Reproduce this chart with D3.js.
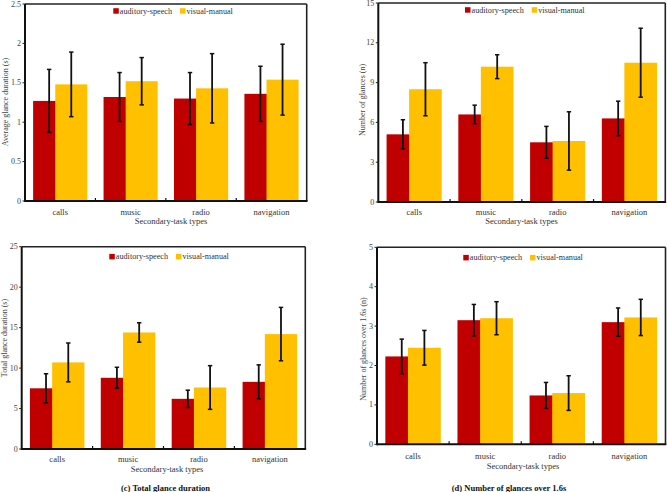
<!DOCTYPE html>
<html><head><meta charset="utf-8">
<script src="https://cdn.jsdelivr.net/npm/d3@7"></script>
<style>body{margin:0;background:#fff}svg{display:block}text{font-family:"Liberation Serif","Times New Roman",serif}</style>
</head><body>
<svg id="c" width="667" height="492"></svg>
<script>
const categories = ["calls","music","radio","navigation"];
const seriesNames = ["auditory-speech","visual-manual"];
// (a) Average glance duration (s)
const avgAuditory = [1.27,1.32,1.30,1.36];
const avgAuditoryErr = [0.40,0.31,0.33,0.35];
const avgVisual = [1.48,1.52,1.43,1.54];
const avgVisualErr = [0.41,0.30,0.44,0.45];
const avgTicks = [0,0.5,1,1.5,2,2.5];
// (b) Number of glances (n)
const numAuditory = [5.1,6.6,4.5,6.3];
const numAuditoryErr = [1.1,0.7,1.2,1.3];
const numVisual = [8.5,10.2,4.6,10.5];
const numVisualErr = [2.0,0.9,2.2,2.6];
const numTicks = [0,3,6,9,12,15];
// (c) Total glance duration (s)
const totAuditory = [7.5,8.8,6.2,8.3];
const totAuditoryErr = [1.8,1.3,1.07,2.1];
const totVisual = [10.7,14.4,7.6,14.2];
const totVisualErr = [2.4,1.2,2.7,3.3];
const totTicks = [0,5,10,15,20,25];
// (d) Number of glances over 1.6s (n)
const overAuditory = [2.23,3.15,1.24,3.10];
const overAuditoryErr = [0.44,0.40,0.33,0.36];
const overVisual = [2.45,3.20,1.30,3.22];
const overVisualErr = [0.44,0.42,0.44,0.46];
const overTicks = [0,1,2,3,4,5];
const colors = ["#C00000","#FFC000"];

const svg = d3.select("#c");

function panel(o){
  const g = svg.append("g");
  const x = d3.scaleBand().domain(categories).range([o.left,o.right]);
  const y = d3.scaleLinear().domain([0,o.ticks[o.ticks.length-1]]).range([o.bottom,o.top]);
  const bw = x.bandwidth();
  const w = bw*0.455, off = bw*0.314;
  const series = [{v:o.a,e:o.ae,c:colors[0],dx:-(w+off)/2},{v:o.b,e:o.be,c:colors[1],dx:-(w+off)/2+off}];
  series.forEach(s=>{
    g.selectAll(null).data(categories).enter().append("rect")
      .attr("x",(c)=>x(c)+bw/2+s.dx).attr("width",w)
      .attr("y",(c,i)=>y(s.v[i])).attr("height",(c,i)=>o.bottom-y(s.v[i]))
      .attr("fill",s.c);
  });
  series.forEach(s=>{
    categories.forEach((c,i)=>{
      const cx = x(c)+bw/2+s.dx+w/2;
      const y1=y(s.v[i]+s.e[i]), y0=y(s.v[i]-s.e[i]);
      g.append("line").attr("x1",cx).attr("x2",cx).attr("y1",y1).attr("y2",y0).attr("stroke","#111").attr("stroke-width",1.8);
      [y0,y1].forEach(yy=>g.append("line").attr("x1",cx-2.2).attr("x2",cx+2.2).attr("y1",yy).attr("y2",yy).attr("stroke","#111").attr("stroke-width",1.5));
    });
  });
  // frame
  g.append("line").attr("x1",o.left).attr("x2",o.right).attr("y1",o.top).attr("y2",o.top).attr("stroke","#222").attr("stroke-width",1.6);
  g.append("line").attr("x1",o.right).attr("x2",o.right).attr("y1",o.top).attr("y2",o.bottom).attr("stroke","#222").attr("stroke-width",1.6);
  g.append("line").attr("x1",o.left).attr("x2",o.left).attr("y1",o.top).attr("y2",o.bottom+1).attr("stroke","#111").attr("stroke-width",2);
  g.append("line").attr("x1",o.left).attr("x2",o.right+0.8).attr("y1",o.bottom).attr("y2",o.bottom).attr("stroke","#111").attr("stroke-width",2);
  // y ticks
  o.ticks.forEach(t=>{
    g.append("line").attr("x1",o.left-2.5).attr("x2",o.left).attr("y1",y(t)).attr("y2",y(t)).attr("stroke","#222").attr("stroke-width",1);
    g.append("text").attr("x",o.left-4).attr("y",y(t)).attr("text-anchor","end").attr("dominant-baseline","central")
      .attr("font-size",8).attr("fill","#444").text(t);
  });
  // x band boundary ticks
  categories.slice(1).forEach(c=>{
    g.append("line").attr("x1",x(c)).attr("x2",x(c)).attr("y1",o.bottom-3).attr("y2",o.bottom).attr("stroke","#111").attr("stroke-width",1.2);
  });
  categories.forEach(c=>{
    g.append("text").attr("x",x(c)+bw/2).attr("y",o.catY).attr("text-anchor","middle").attr("dominant-baseline","central")
      .attr("font-size",8.5).attr("fill","#333").text(c);
  });
  g.append("text").attr("x",o.titleX).attr("y",o.titleY).attr("text-anchor","middle").attr("dominant-baseline","central")
    .attr("font-size",8.5).attr("fill","#333").text("Secondary-task types");
  g.append("text").attr("transform",`translate(${o.ylx},${o.yly}) rotate(-90)`).attr("text-anchor","middle").attr("dominant-baseline","central")
    .attr("font-size",8).attr("fill","#444").text(o.ylabel);
  // legend
  const lx = o.legX, ly = o.legY;
  const items = [{n:seriesNames[0],c:colors[0],x:lx},{n:seriesNames[1],c:colors[1],x:lx+66.7}];
  items.forEach(it=>{
    g.append("rect").attr("x",it.x).attr("y",ly-2.8).attr("width",5.5).attr("height",5.5).attr("fill",it.c);
    g.append("text").attr("x",it.x+6.5).attr("y",ly).attr("dominant-baseline","central").attr("font-size",8.2).attr("fill","#333").text(it.n);
  });
  if(o.caption){
    g.append("text").attr("x",o.capX).attr("y",o.capY).attr("text-anchor","middle").attr("dominant-baseline","central")
      .attr("font-size",8.5).attr("font-weight","bold").attr("fill","#111").text(o.caption);
  }
}

panel({left:25,top:4,bottom:201,right:306.7,ticks:avgTicks,a:avgAuditory,ae:avgAuditoryErr,b:avgVisual,be:avgVisualErr,
  catY:211.5,titleY:221,titleX:171,ylx:5,yly:102,ylabel:"Average glance duration (s)",legX:113.3,legY:11});
panel({left:378.3,top:3,bottom:202,right:665.3,ticks:numTicks,a:numAuditory,ae:numAuditoryErr,b:numVisual,be:numVisualErr,
  catY:211.5,titleY:221,titleX:521.5,ylx:362,yly:100,ylabel:"Number of glances (n)",legX:465,legY:10});
panel({left:21.7,top:246.7,bottom:449,right:305.3,ticks:totTicks,a:totAuditory,ae:totAuditoryErr,b:totVisual,be:totVisualErr,
  catY:459,titleY:468.5,titleX:167,ylx:4.5,yly:338,ylabel:"Total glance duration (s)",legX:109.3,legY:256.7,
  caption:"(c) Total glance duration",capX:165.5,capY:488});
panel({left:377,top:247.3,bottom:444.3,right:665.5,ticks:overTicks,a:overAuditory,ae:overAuditoryErr,b:overVisual,be:overVisualErr,
  catY:455.5,titleY:465.5,titleX:523,ylx:363,yly:349,ylabel:"Number of glances over 1.6s (n)",legX:463.3,legY:257.7,
  caption:"(d) Number of glances over 1.6s",capX:509,capY:488});
</script>
</body></html>
